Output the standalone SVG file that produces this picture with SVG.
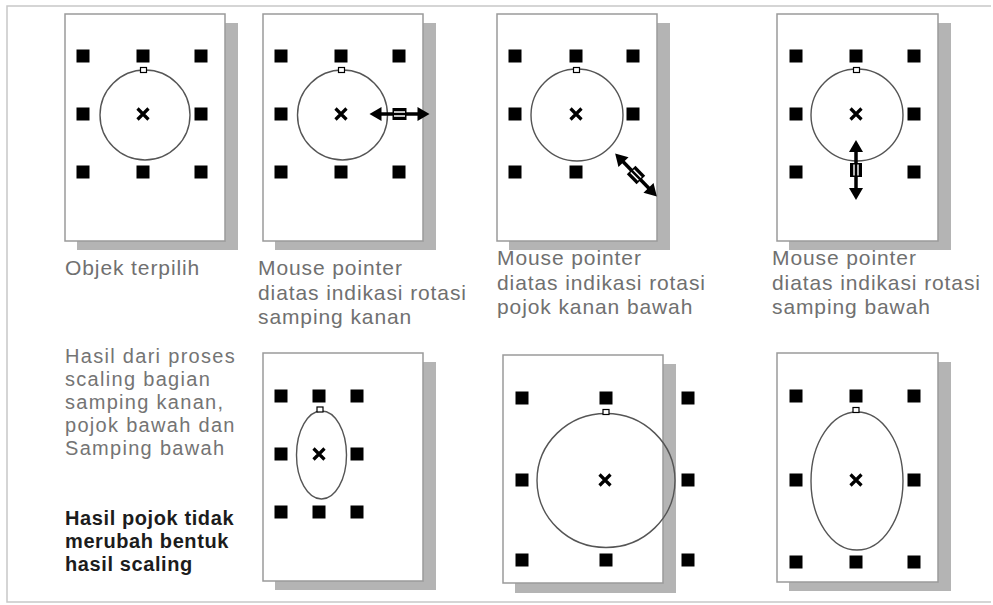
<svg xmlns="http://www.w3.org/2000/svg" width="993" height="605" viewBox="0 0 993 605">
<style>
.frame{fill:none;stroke:#c8c8c8;stroke-width:1.5}
.page{fill:#fff;stroke:#9a9a9a;stroke-width:1.5}
.shadow{fill:#b4b4b4}
.obj{fill:none;stroke:#555;stroke-width:1.4}
.lbl{font-family:"Liberation Sans",Arial,sans-serif;font-size:21px;fill:#707070;letter-spacing:0.9px}
.note{font-family:"Liberation Sans",Arial,sans-serif;font-size:20px;fill:#747474;letter-spacing:1.3px}
.bold{font-family:"Liberation Sans",Arial,sans-serif;font-size:20px;font-weight:bold;fill:#1c1c1c;letter-spacing:0.6px}
</style>
<defs>
<rect id="h" x="-6.5" y="-6.5" width="13" height="13" fill="#000"/>
<g id="x"><path d="M-5.5,-5.5 L5.5,5.5 M5.5,-5.5 L-5.5,5.5" stroke="#000" stroke-width="3.2" fill="none"/></g>
<rect id="t" x="-3" y="-2.5" width="6" height="5" fill="#fff" stroke="#000" stroke-width="1.2"/>
<g id="cur">
<path d="M-22,0 H22" stroke="#000" stroke-width="3.5"/>
<polygon points="-30,0 -18,-7 -18,7" fill="#000"/>
<polygon points="30,0 18,-7 18,7" fill="#000"/>
<rect x="-7" y="-6" width="14" height="12" fill="#000"/>
<path d="M-5.5,-2 H5.5 M-5.5,2 H5.5" stroke="#fff" stroke-width="1.4"/>
</g>
</defs>
<path class="frame" d="M991,6 H7 V602 H991"/>

<g id="panel1">
<rect class="shadow" x="77" y="23" width="161" height="227"/>
<rect class="page" x="65" y="14" width="160" height="227"/>
<use href="#h" x="83" y="56"/><use href="#h" x="143" y="56"/><use href="#h" x="201" y="56"/>
<use href="#h" x="83" y="114"/><use href="#h" x="201" y="114"/>
<use href="#h" x="83" y="172"/><use href="#h" x="143" y="172"/><use href="#h" x="201" y="172"/>
<circle class="obj" cx="145" cy="115" r="45"/>
<use href="#t" x="143.5" y="70"/>
<use href="#x" x="143" y="114"/>
<text class="lbl" x="65" y="275">Objek terpilih</text>
</g>

<g id="panel2">
<rect class="shadow" x="275" y="23" width="161" height="227"/>
<rect class="page" x="263" y="14" width="160" height="227"/>
<use href="#h" x="281" y="56"/><use href="#h" x="341" y="56"/><use href="#h" x="399" y="56"/>
<use href="#h" x="281" y="114"/>
<use href="#h" x="281" y="172"/><use href="#h" x="341" y="172"/><use href="#h" x="399" y="172"/>
<circle class="obj" cx="342.5" cy="115" r="45"/>
<use href="#t" x="341.5" y="70"/>
<use href="#x" x="341" y="114"/>
<use href="#cur" transform="translate(399.5,114)"/>
<text class="lbl" x="258" y="275">Mouse pointer</text>
<text class="lbl" x="258" y="299.5">diatas indikasi rotasi</text>
<text class="lbl" x="258" y="324">samping kanan</text>
</g>

<g id="panel3">
<rect class="shadow" x="509" y="23" width="161" height="227"/>
<rect class="page" x="497" y="14" width="160" height="227"/>
<use href="#h" x="515" y="56"/><use href="#h" x="576" y="56"/><use href="#h" x="633" y="56"/>
<use href="#h" x="515" y="114"/><use href="#h" x="633" y="114"/>
<use href="#h" x="515" y="172"/><use href="#h" x="576" y="172"/>
<circle class="obj" cx="577" cy="115" r="46"/>
<use href="#t" x="576.5" y="70"/>
<use href="#x" x="576" y="114"/>
<use href="#cur" transform="translate(636,175) rotate(46)"/>
<text class="lbl" x="497" y="265">Mouse pointer</text>
<text class="lbl" x="497" y="290">diatas indikasi rotasi</text>
<text class="lbl" x="497" y="314">pojok kanan bawah</text>
</g>

<g id="panel4">
<rect class="shadow" x="789" y="23" width="162" height="227"/>
<rect class="page" x="777" y="14" width="161" height="227"/>
<use href="#h" x="796" y="56"/><use href="#h" x="856" y="56"/><use href="#h" x="914" y="56"/>
<use href="#h" x="796" y="114"/><use href="#h" x="914" y="114"/>
<use href="#h" x="796" y="172"/><use href="#h" x="914" y="172"/>
<circle class="obj" cx="857" cy="115" r="46"/>
<use href="#t" x="856.5" y="70"/>
<use href="#x" x="856" y="114"/>
<use href="#cur" transform="translate(856,170) rotate(90)"/>
<text class="lbl" x="772" y="265">Mouse pointer</text>
<text class="lbl" x="772" y="290">diatas indikasi rotasi</text>
<text class="lbl" x="772" y="314">samping bawah</text>
</g>

<g id="note">
<text class="note" x="65" y="363">Hasil dari proses</text>
<text class="note" x="65" y="386">scaling bagian</text>
<text class="note" x="65" y="409">samping kanan,</text>
<text class="note" x="65" y="432">pojok bawah dan</text>
<text class="note" x="65" y="455">Samping bawah</text>
<text class="bold" x="65" y="525">Hasil pojok tidak</text>
<text class="bold" x="65" y="548">merubah bentuk</text>
<text class="bold" x="65" y="571">hasil scaling</text>
</g>

<g id="panel5">
<rect class="shadow" x="275" y="362" width="161" height="228"/>
<rect class="page" x="263" y="353" width="160" height="228"/>
<use href="#h" x="281" y="396"/><use href="#h" x="319" y="396"/><use href="#h" x="357" y="396"/>
<use href="#h" x="281" y="454"/><use href="#h" x="357" y="454"/>
<use href="#h" x="281" y="512"/><use href="#h" x="319" y="512"/><use href="#h" x="357" y="512"/>
<ellipse class="obj" cx="321.5" cy="455" rx="25" ry="44"/>
<use href="#t" x="320" y="409.5"/>
<use href="#x" x="319" y="454"/>
</g>

<g id="panel6">
<rect class="shadow" x="515" y="364" width="161" height="229"/>
<rect class="page" x="503" y="355" width="160" height="228"/>
<use href="#h" x="522" y="398"/><use href="#h" x="606" y="398"/><use href="#h" x="688" y="398"/>
<use href="#h" x="522" y="480"/><use href="#h" x="688" y="480"/>
<use href="#h" x="522" y="560"/><use href="#h" x="606" y="560"/><use href="#h" x="688" y="560"/>
<ellipse class="obj" cx="606" cy="480.5" rx="69" ry="67"/>
<use href="#t" x="606" y="412"/>
<use href="#x" x="605" y="480"/>
</g>

<g id="panel7">
<rect class="shadow" x="789" y="362" width="162" height="229"/>
<rect class="page" x="777" y="353" width="161" height="229"/>
<use href="#h" x="796" y="396"/><use href="#h" x="856" y="396"/><use href="#h" x="914" y="396"/>
<use href="#h" x="796" y="480"/><use href="#h" x="914" y="480"/>
<use href="#h" x="796" y="562"/><use href="#h" x="856" y="562"/><use href="#h" x="914" y="562"/>
<ellipse class="obj" cx="857" cy="481" rx="46" ry="69"/>
<use href="#t" x="856" y="410"/>
<use href="#x" x="856" y="480"/>
</g>
<g id="connectors"/>
</svg>
